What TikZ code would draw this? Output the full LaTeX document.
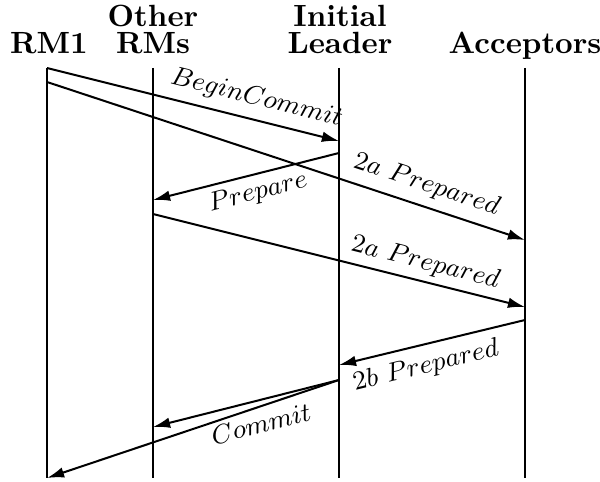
\documentclass[tikz,border=0pt]{standalone}
\usetikzlibrary{arrows.meta}
\begin{document}
\begin{tikzpicture}[x=0.339pt,y=-0.339pt,
  life/.style={line width=0.68pt},
  msg/.style={line width=0.68pt,-{Latex[length=5.8pt,width=3.6pt]}},
  lbl/.style={font=\fontsize{8.6}{10}\selectfont, sloped, inner xsep=0pt},
  title/.style={font=\bfseries\fontsize{10.4}{9.15}\selectfont, align=center,
                anchor=south, inner sep=0pt, text depth=0pt}]
\useasboundingbox (0,0) rectangle (600,481);

% titles
\node[title] (t1) at (49,54) {RM1};
\node[title] (t2) at (153,54) {Other\\RMs};
\node[title] (t3) at (340,54) {Initial\\Leader};
\node[title] (t4) at (525,54) {Acceptors};

% lifelines
\coordinate (r1top) at (47,68);  \coordinate (r1bot) at (47,478);
\coordinate (r2top) at (153,68); \coordinate (r2bot) at (153,478);
\coordinate (ldtop) at (339,68); \coordinate (ldbot) at (339,478);
\coordinate (actop) at (525,68); \coordinate (acbot) at (525,478);
\draw[life] (r1top) -- (r1bot);
\draw[life] (r2top) -- (r2bot);
\draw[life] (ldtop) -- (ldbot);
\draw[life] (actop) -- (acbot);

% message end points
\coordinate (m1s) at (47,68);   \coordinate (m1e) at (339,141);
\coordinate (m2s) at (47,82);   \coordinate (m2e) at (525,240);
\coordinate (m3s) at (339,153); \coordinate (m3e) at (153,200);
\coordinate (m4s) at (153,214); \coordinate (m4e) at (525,307);
\coordinate (m5s) at (525,320); \coordinate (m5e) at (339,365);
\coordinate (m6s) at (339,380); \coordinate (m6e) at (153,427);
\coordinate (m7e) at (47,478);

% messages
\draw[msg] (m1s) -- node[lbl, pos=0.70, above, inner ysep=3pt] (l1) {$BeginCommit$} (m1e);
\draw[msg] (m2s) -- node[lbl, pos=0.78, above, inner ysep=3pt] (l2) {$2a\ Prepared$} (m2e);
\draw[msg] (m3s) -- node[lbl, pos=0.46, below, inner ysep=2pt] (l3) {$Prepare$} (m3e);
\draw[msg] (m4s) -- node[lbl, pos=0.72, above, inner ysep=2pt] (l4) {$2a\ Prepared$} (m4e);
\draw[msg] (m5s) -- node[lbl, pos=0.56, below, inner ysep=3pt] (l5) {$2b\ Prepared$} (m5e);
\draw[msg] (m6s) -- node[lbl, pos=0.45, below, inner ysep=4.5pt] (l6) {$Commit$} (m6e);
\draw[msg] (m6s) -- (m7e);
\end{tikzpicture}
\end{document}
